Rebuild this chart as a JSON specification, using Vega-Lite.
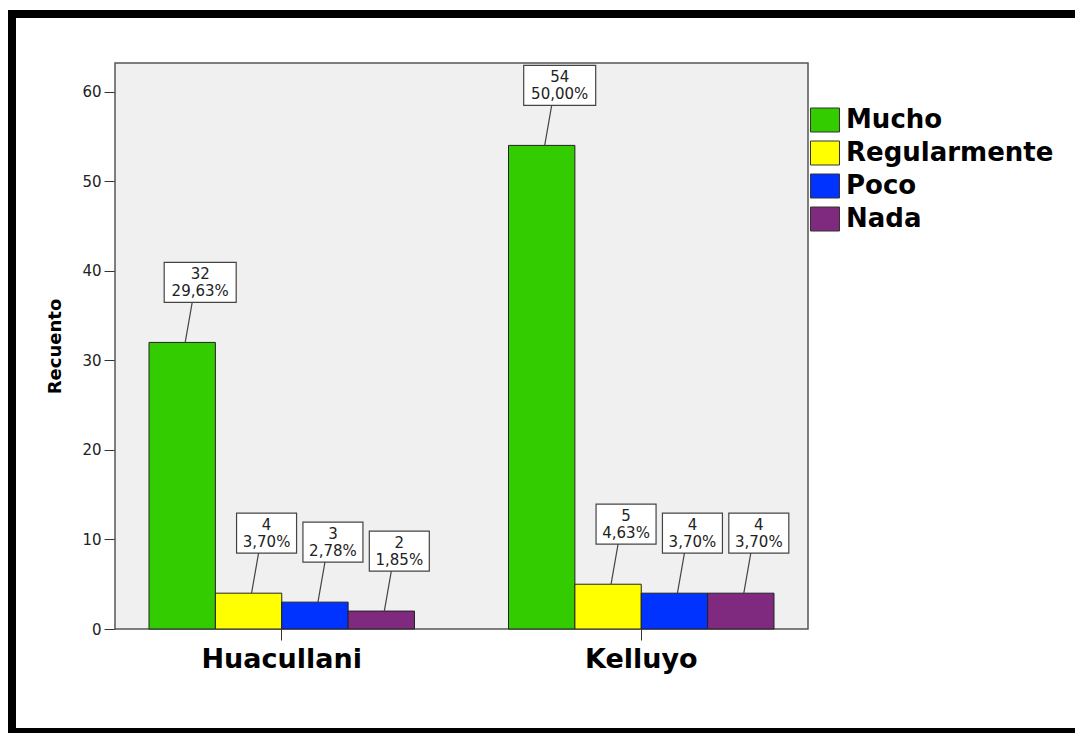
{
  "$schema": "https://vega.github.io/schema/vega-lite/v6.json",
  "width": 1071,
  "height": 718,
  "autosize": "none",
  "padding": {"left": 12, "top": 14, "right": -8, "bottom": 1},
  "background": "white",
  "config": {
    "view": {"stroke": "black", "strokeWidth": 8, "fill": "white"},
    "font": "DejaVu Sans"
  },
  "data": {
    "values": [
      {"lugar": "Huacullani", "nivel": "Mucho", "recuento": 32, "porcentaje": "29,63%"},
      {"lugar": "Huacullani", "nivel": "Regularmente", "recuento": 4, "porcentaje": "3,70%"},
      {"lugar": "Huacullani", "nivel": "Poco", "recuento": 3, "porcentaje": "2,78%"},
      {"lugar": "Huacullani", "nivel": "Nada", "recuento": 2, "porcentaje": "1,85%"},
      {"lugar": "Kelluyo", "nivel": "Mucho", "recuento": 54, "porcentaje": "50,00%"},
      {"lugar": "Kelluyo", "nivel": "Regularmente", "recuento": 5, "porcentaje": "4,63%"},
      {"lugar": "Kelluyo", "nivel": "Poco", "recuento": 4, "porcentaje": "3,70%"},
      {"lugar": "Kelluyo", "nivel": "Nada", "recuento": 4, "porcentaje": "3,70%"}
    ]
  },
  "resolve": {"scale": {"x": "independent"}, "axis": {"x": "independent"}},
  "layer": [
    {
      "data": {"values": [{}]},
      "mark": {"type": "rect", "fill": "#f0f0f0", "stroke": "#555555", "strokeWidth": 1.5},
      "encoding": {
        "x": {"datum": 0, "type": "quantitative", "scale": {"domain": [0, 1], "range": [103, 796]}, "axis": null},
        "x2": {"datum": 1},
        "y": {"datum": 0, "type": "quantitative"},
        "y2": {"datum": 63.2}
      }
    },
    {
      "encoding": {
        "x": {
          "field": "lugar",
          "type": "nominal",
          "scale": {"range": [103, 796], "paddingInner": 0.2615, "paddingOuter": 0.0946},
          "axis": {
            "title": null,
            "labelAngle": 0,
            "labelFont": "DejaVu Sans",
            "labelFontWeight": "bold",
            "labelFontSize": 27,
            "labelColor": "black",
            "tickSize": 11,
            "tickColor": "#333333",
            "domain": false,
            "labelPadding": 6,
            "offset": -103
          }
        },
        "xOffset": {
          "field": "nivel",
          "type": "nominal",
          "scale": {"domain": ["Mucho", "Regularmente", "Poco", "Nada"], "paddingInner": 0, "paddingOuter": 0}
        },
        "y": {
          "field": "recuento",
          "type": "quantitative",
          "scale": {"domain": [0, 63.2], "range": [615, 49], "nice": false},
          "axis": {
            "title": "Recuento",
            "values": [0, 10, 20, 30, 40, 50, 60],
            "offset": -103,
            "domain": false,
            "grid": false,
            "tickSize": 11,
            "tickColor": "#333333",
            "labelFont": "DejaVu Sans",
            "labelFontSize": 15,
            "labelColor": "#222222",
            "labelPadding": 3,
            "titleFont": "DejaVu Sans",
            "titleFontSize": 18,
            "titleFontWeight": "bold",
            "titleColor": "black",
            "titlePadding": 17
          }
        }
      },
      "layer": [
        {
          "mark": {"type": "bar", "stroke": "#222222", "strokeWidth": 1},
          "encoding": {
            "color": {
              "field": "nivel",
              "type": "nominal",
              "scale": {"domain": ["Mucho", "Regularmente", "Poco", "Nada"], "range": ["#33cc00", "#ffff00", "#0033ff", "#7f2a7f"]},
              "legend": {
                "title": null,
                "orient": "none",
                "legendX": 800,
                "legendY": 93,
                "symbolType": "M-1.208,-1H1.208V1H-1.208Z",
                "symbolSize": 576,
                "symbolStrokeColor": "#333333",
                "symbolStrokeWidth": 1,
                "symbolOpacity": 1,
                "labelFont": "DejaVu Sans",
                "labelFontWeight": "bold",
                "labelFontSize": 26,
                "labelColor": "black",
                "labelLimit": 0,
                "labelOffset": 8,
                "rowPadding": 5
              }
            }
          }
        },
        {
          "transform": [{"filter": "datum.recuento >= 10"}],
          "mark": {"type": "point", "shape": "M-18,-80H54V-40H-18Z M3,0L10,-40", "size": 4, "filled": true, "fill": "white", "stroke": "#444444", "strokeWidth": 1.2, "opacity": 1}
        },
        {
          "transform": [{"filter": "datum.recuento < 10"}],
          "mark": {"type": "point", "shape": "M-12,-80H48V-40H-12Z M3,0L10,-40", "size": 4, "filled": true, "fill": "white", "stroke": "#444444", "strokeWidth": 1.2, "opacity": 1}
        },
        {
          "mark": {"type": "text", "dx": 18, "dy": -68.5, "font": "DejaVu Sans", "fontSize": 15, "color": "#222222", "baseline": "middle"},
          "encoding": {"text": {"field": "recuento", "type": "quantitative"}}
        },
        {
          "mark": {"type": "text", "dx": 18, "dy": -51.5, "font": "DejaVu Sans", "fontSize": 15, "color": "#222222", "baseline": "middle"},
          "encoding": {"text": {"field": "porcentaje", "type": "nominal"}}
        }
      ]
    }
  ]
}
